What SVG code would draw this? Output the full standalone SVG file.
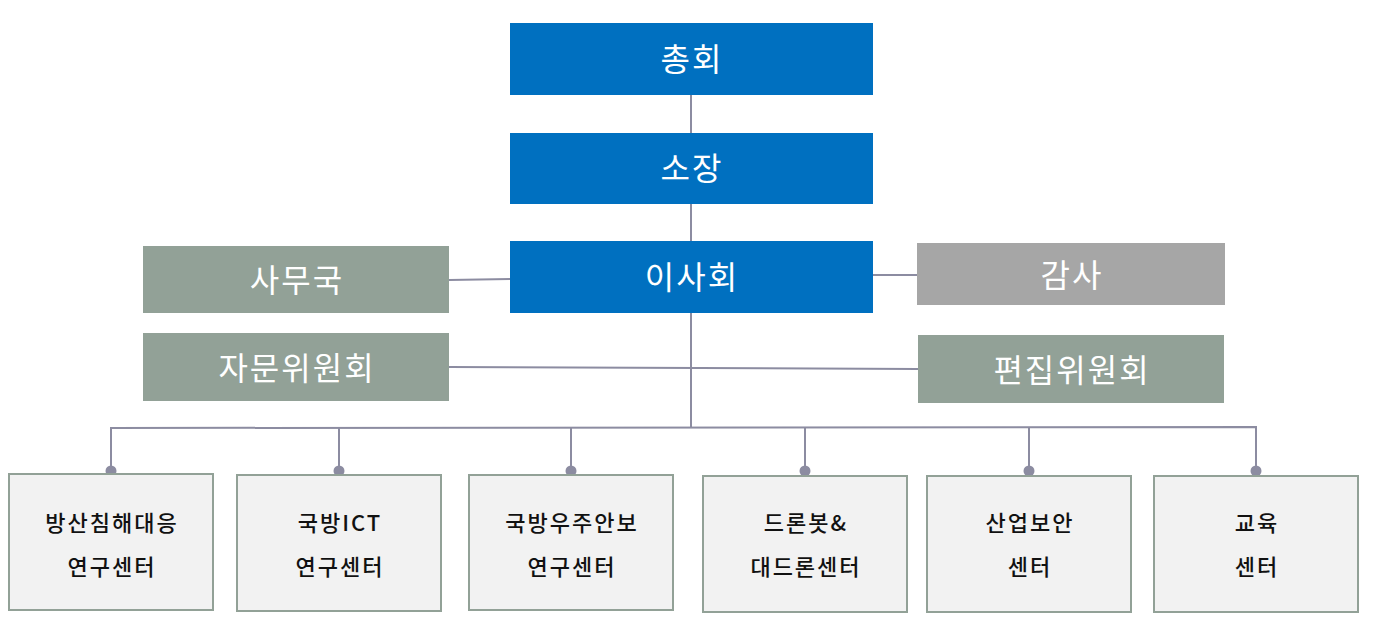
<svg xmlns="http://www.w3.org/2000/svg" width="1374" height="632" viewBox="0 0 1374 632">
<style>
text{font-family:"Noto Sans CJK KR","Noto Sans",sans-serif;text-anchor:middle}
.blue{fill:#0070C0}
.sage{fill:#92A197}
.gray{fill:#A6A6A6}
.wt{fill:#ffffff;font-size:32px;letter-spacing:2px}
.unit{fill:#F2F2F2;stroke:#92A197;stroke-width:2}
.bt{fill:#111111;font-size:22px;letter-spacing:2px;font-weight:500}
.ln{stroke:#8C8CA1;stroke-width:2;fill:none}
.dot{fill:#8C8CA1}
</style>
<rect width="1374" height="632" fill="#ffffff"/>
<g id="connectors">
<line class="ln" x1="691" y1="95" x2="691" y2="428"/>
<line class="ln" x1="449" y1="280" x2="510" y2="279"/>
<line class="ln" x1="873" y1="275" x2="917" y2="275"/>
<line class="ln" x1="449" y1="367" x2="918" y2="369"/>
<polyline class="ln" points="111,471 111,428 1256,427 1256,471"/>
<line class="ln" x1="339" y1="428" x2="339" y2="471"/>
<line class="ln" x1="571" y1="428" x2="571" y2="471"/>
<line class="ln" x1="805" y1="428" x2="805" y2="471"/>
<line class="ln" x1="1029" y1="427" x2="1029" y2="471"/>
<circle class="dot" cx="111" cy="471" r="5.5"/>
<circle class="dot" cx="339" cy="471" r="5.5"/>
<circle class="dot" cx="571" cy="471" r="5.5"/>
<circle class="dot" cx="805" cy="471" r="5.5"/>
<circle class="dot" cx="1029" cy="471" r="5.5"/>
<circle class="dot" cx="1256" cy="471" r="5.5"/>
</g>
<g id="n-general"><rect class="blue" x="510" y="23" width="363" height="72"/><text class="wt" x="692" y="71">총회</text></g>
<g id="n-director"><rect class="blue" x="510" y="133" width="363" height="71"/><text class="wt" x="692" y="180">소장</text></g>
<g id="n-board"><rect class="blue" x="510" y="241" width="363" height="72"/><text class="wt" x="692" y="289">이사회</text></g>
<g id="n-secretariat"><rect class="sage" x="143" y="246" width="306" height="67"/><text class="wt" x="297" y="292">사무국</text></g>
<g id="n-audit"><rect class="gray" x="917" y="243" width="308" height="62"/><text class="wt" x="1072" y="287">감사</text></g>
<g id="n-advisory"><rect class="sage" x="143" y="333" width="306" height="68"/><text class="wt" x="297" y="380">자문위원회</text></g>
<g id="n-editorial"><rect class="sage" x="918" y="335" width="306" height="68"/><text class="wt" x="1072" y="382">편집위원회</text></g>
<g id="u1"><rect class="unit" x="9" y="474" width="204" height="136"/><text class="bt" x="112" y="531">방산침해대응</text><text class="bt" x="112" y="575">연구센터</text></g>
<g id="u2"><rect class="unit" x="237" y="475" width="204" height="136"/><text class="bt" x="340" y="531">국방ICT</text><text class="bt" x="340" y="575">연구센터</text></g>
<g id="u3"><rect class="unit" x="469" y="475" width="204" height="135"/><text class="bt" x="572" y="531">국방우주안보</text><text class="bt" x="572" y="575">연구센터</text></g>
<g id="u4"><rect class="unit" x="703" y="476" width="204" height="136"/><text class="bt" x="806" y="531">드론봇&amp;</text><text class="bt" x="806" y="575">대드론센터</text></g>
<g id="u5"><rect class="unit" x="927" y="476" width="204" height="136"/><text class="bt" x="1030" y="531">산업보안</text><text class="bt" x="1030" y="575">센터</text></g>
<g id="u6"><rect class="unit" x="1154" y="476" width="204" height="136"/><text class="bt" x="1257" y="531">교육</text><text class="bt" x="1257" y="575">센터</text></g>
</svg>
